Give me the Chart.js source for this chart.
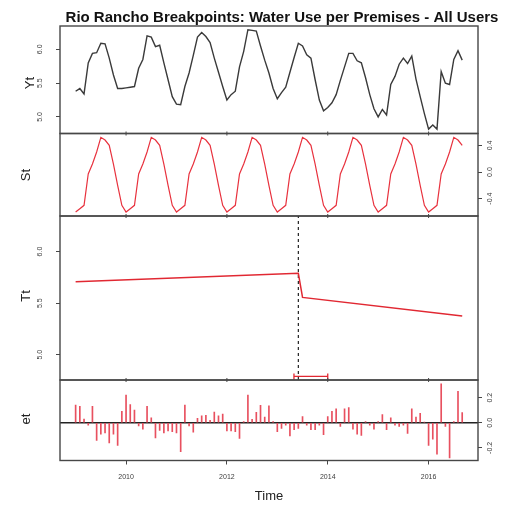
<!DOCTYPE html>
<html><head><meta charset="utf-8">
<script src="https://cdn.jsdelivr.net/npm/chart.js@4.4.1/dist/chart.umd.min.js"></script>
<style>
html,body{margin:0;padding:0;background:#fff;}
#wrap{position:relative;width:511px;height:508px;background:#fff;}
#wrap canvas{position:absolute;left:0;top:0;}
</style></head><body>
<div id="wrap">
<canvas id="cYt" width="511" height="508"></canvas>
<canvas id="cSt" width="511" height="508"></canvas>
<canvas id="cTt" width="511" height="508"></canvas>
<canvas id="cEt" width="511" height="508"></canvas>
</div>
<script>
// ---- data (monthly series, Jan 2009 .. Sep 2016) ----
const startYear = 2009;
const frequency = 12;
const yt = [
  5.38,5.42,5.34,5.80,5.94,5.95,6.09,6.08,5.87,5.62,5.42,5.42,
  5.43,5.44,5.45,5.72,5.85,6.20,6.18,6.04,6.06,5.80,5.55,5.30,
  5.19,5.18,5.45,5.65,5.91,6.18,6.25,6.19,6.10,5.87,5.66,5.45,
  5.25,5.33,5.38,5.74,5.97,6.29,6.28,6.27,6.05,5.84,5.65,5.42,
  5.27,5.36,5.44,5.66,5.88,6.09,6.05,5.92,5.87,5.55,5.25,5.09,
  5.14,5.21,5.33,5.54,5.74,5.94,5.94,5.83,5.80,5.58,5.33,5.12,
  5.00,5.11,5.03,5.48,5.60,5.78,5.87,5.79,5.90,5.56,5.30,5.05,
  4.82,4.88,4.82,5.67,5.50,5.48,5.85,5.98,5.84
];
const st = [
  -0.60,-0.55,-0.50,-0.03,0.12,0.30,0.52,0.48,0.40,0.12,-0.20,-0.50,
  -0.60,-0.55,-0.50,-0.03,0.12,0.30,0.52,0.48,0.40,0.12,-0.20,-0.50,
  -0.60,-0.55,-0.50,-0.03,0.12,0.30,0.52,0.48,0.40,0.12,-0.20,-0.50,
  -0.60,-0.55,-0.50,-0.03,0.12,0.30,0.52,0.48,0.40,0.12,-0.20,-0.50,
  -0.60,-0.55,-0.50,-0.03,0.12,0.30,0.52,0.48,0.40,0.12,-0.20,-0.50,
  -0.60,-0.55,-0.50,-0.03,0.12,0.30,0.52,0.48,0.40,0.12,-0.20,-0.50,
  -0.60,-0.55,-0.50,-0.03,0.12,0.30,0.52,0.48,0.40,0.12,-0.20,-0.50,
  -0.60,-0.55,-0.50,-0.03,0.12,0.30,0.52,0.48,0.40
];
const et = [
  0.14,0.13,0.03,-0.02,0.13,-0.14,-0.09,-0.08,-0.16,-0.09,-0.18,0.09,
  0.22,0.145,0.10,-0.025,-0.05,0.13,0.04,-0.12,-0.06,-0.08,-0.065,-0.07,
  -0.08,-0.23,0.14,-0.025,-0.075,0.035,0.055,0.06,0.02,0.085,0.055,0.07,
  -0.065,-0.065,-0.07,-0.125,0.01,0.22,0.028,0.082,0.138,0.045,0.135,0.01,
  -0.07,-0.045,-0.02,-0.105,-0.055,-0.045,0.05,-0.02,-0.055,-0.055,-0.02,-0.095,
  0.05,0.09,0.11,-0.03,0.11,0.12,-0.05,-0.09,-0.10,0.01,-0.02,-0.05,
  0.01,0.065,-0.055,0.04,-0.02,-0.03,-0.02,-0.085,0.11,0.045,0.075,0.005,
  -0.18,-0.13,-0.25,0.31,-0.03,-0.28,0.01,0.25,0.08
];
// trend: two linear segments (values at segment ends)
const trendTime = [2009.0, 2013.417, 2013.5, 2016.667];
const trendValue = [5.708, 5.789, 5.556, 5.376];
const breakTime = 2013.417;
const breakCI = [2013.33, 2014.0];
const ciLevel = 4.79;
const xTicks = [2010, 2012, 2014, 2016];
const ytTicks = [5.0, 5.5, 6.0];
const stTicks = [-0.4, 0.0, 0.4];
const ttTicks = [5.0, 5.5, 6.0];
const etTicks = [-0.2, 0.0, 0.2];
const mainTitle = 'Rio Rancho Breakpoints: Water Use per Premises - All Users';
const xTitle = 'Time';

// ---- build ----
const time = yt.map((_, i) => startYear + i / frequency);
const pts = arr => arr.map((v, i) => ({x: time[i], y: v}));
const X_MIN = 2008.69, X_MAX = 2016.98;
const FONT = '"Liberation Sans", Arial, Helvetica, sans-serif';
const fmt = v => v.toFixed(1);

function decor(cfg) {
  return {
    id: 'decor_' + cfg.name,
    afterDraw(chart) {
      const {ctx, chartArea: a} = chart;
      const ys = chart.scales.y, xs = chart.scales.x;
      ctx.save();
      ctx.strokeStyle = '#474747'; ctx.lineWidth = 1.4;
      ctx.strokeRect(a.left, a.top, a.right - a.left, a.bottom - a.top);
      ctx.lineWidth = 1;
      if (!cfg.last) {
        for (const t of xTicks) {
          const x = xs.getPixelForValue(t);
          ctx.beginPath(); ctx.moveTo(x, a.bottom - 2); ctx.lineTo(x, a.bottom + 2); ctx.stroke();
        }
      }
      ctx.fillStyle = '#3c3c3c';
      ctx.font = '7px ' + FONT;
      ctx.textAlign = 'center'; ctx.textBaseline = 'middle';
      for (const t of cfg.ticks) {
        const y = ys.getPixelForValue(t);
        ctx.save(); ctx.translate(cfg.labelX, y); ctx.rotate(-Math.PI / 2);
        ctx.fillText(fmt(t), 0, 0); ctx.restore();
      }
      ctx.fillStyle = '#222';
      ctx.font = '13px ' + FONT;
      ctx.save(); ctx.translate(cfg.titleX, cfg.titleY); ctx.rotate(-Math.PI / 2);
      ctx.fillText(cfg.name, 0, 0); ctx.restore();
      if (cfg.main) {
        ctx.fillStyle = '#111';
        ctx.font = 'bold 15px ' + FONT;
        ctx.fillText(mainTitle, 282, 18);
      }
      ctx.restore();
    }
  };
}

function panel(id, cfg) {
  const left = cfg.side === 'left';
  return new Chart(document.getElementById(id), {
    type: 'line',
    data: {datasets: cfg.datasets},
    options: {
      responsive: false, animation: false, devicePixelRatio: 1,
      layout: {padding: {left: left ? 0 : 60, right: left ? 33 : 0, top: cfg.top, bottom: cfg.bottom}},
      plugins: {legend: {display: false}, tooltip: {enabled: false}, title: {display: false}},
      elements: {point: {radius: 0}, line: {tension: 0}},
      scales: {
        x: {
          type: 'linear', min: X_MIN, max: X_MAX, display: !!cfg.last, offset: false,
          afterBuildTicks: s => { s.ticks = xTicks.map(v => ({value: v})); },
          afterFit: s => { if (cfg.last) s.height = 47.5; },
          grid: {drawOnChartArea: false, drawTicks: true, tickLength: 4, color: '#474747', offset: false},
          border: {display: false},
          ticks: {font: {size: 7, family: FONT}, color: '#3c3c3c', padding: 8.3, maxRotation: 0, callback: v => String(v)},
          title: {display: !!cfg.last, text: xTitle, font: {size: 13, family: FONT}, color: '#222', padding: {top: 0, bottom: 3.5}}
        },
        y: {
          type: 'linear', position: cfg.side, min: cfg.min, max: cfg.max, offset: false, beginAtZero: false,
          afterBuildTicks: s => { s.ticks = cfg.ticks.map(v => ({value: v})); },
          afterFit: s => { s.width = left ? 60 : 33; },
          grid: {drawOnChartArea: false, drawTicks: true, tickLength: 4, color: '#474747'},
          border: {display: false},
          ticks: {display: false}
        }
      }
    },
    plugins: [decor(cfg)]
  });
}

panel('cYt', {
  name: 'Yt', side: 'left', top: 26, bottom: 508 - 133.5, min: 4.755, max: 6.345,
  ticks: ytTicks, labelX: 40, titleX: 30, titleY: 83, main: true,
  datasets: [{data: pts(yt), borderColor: '#3a3a3a', borderWidth: 1.4}]
});
panel('cSt', {
  name: 'St', side: 'right', top: 133.5, bottom: 508 - 216, min: -0.66, max: 0.578,
  ticks: stTicks, labelX: 490, titleX: 26, titleY: 175,
  datasets: [{data: pts(st), borderColor: 'rgb(232,50,62)', borderWidth: 1.2}]
});
panel('cTt', {
  name: 'Tt', side: 'left', top: 216, bottom: 508 - 380, min: 4.755, max: 6.345,
  ticks: ttTicks, labelX: 40, titleX: 26, titleY: 296,
  datasets: [
    {data: trendTime.map((t, i) => ({x: t, y: trendValue[i]})), borderColor: 'rgb(225,40,50)', borderWidth: 1.5},
    {data: [{x: breakTime, y: 4.755}, {x: breakTime, y: 6.345}], borderColor: '#222', borderWidth: 1.2, borderDash: [3, 3]},
    {data: breakCI.map(t => ({x: t, y: ciLevel})), borderColor: 'rgb(225,40,50)', borderWidth: 1.3,
     pointStyle: 'line', rotation: 90, pointRadius: 3, pointBorderColor: 'rgb(225,40,50)', pointBorderWidth: 1.3}
  ]
});
panel('cEt', {
  name: 'et', side: 'right', top: 380, bottom: 0, min: -0.30, max: 0.34, last: true,
  ticks: etTicks, labelX: 490, titleX: 26, titleY: 419,
  datasets: [
    {type: 'bar', data: pts(et), backgroundColor: 'rgb(232,80,95)', barThickness: 1, borderWidth: 0, grouped: false},
    {type: 'line', data: [{x: X_MIN, y: 0}, {x: X_MAX, y: 0}], borderColor: '#222', borderWidth: 1.3}
  ]
});
</script>
</body></html>
